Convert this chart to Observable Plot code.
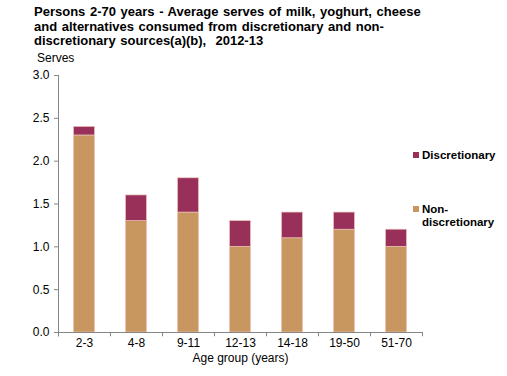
<!DOCTYPE html>
<html><head><meta charset="utf-8">
<script src="https://cdn.jsdelivr.net/npm/d3@7"></script>
<script src="https://cdn.jsdelivr.net/npm/@observablehq/plot@0.6"></script>
<style>
body{margin:0;background:#fff;font-family:"Liberation Sans",Arial,sans-serif;}
#wrap{position:relative;width:507px;height:376px;overflow:hidden;background:#fff}
#title{position:absolute;left:34px;top:5px;font-weight:bold;font-size:13px;line-height:14.5px;word-spacing:1px;color:#000;white-space:nowrap}
#unit{position:absolute;left:37px;top:51px;font-size:12px;color:#000}
#chart{position:absolute;left:0;top:0}
.leg{position:absolute;font-size:11.5px;font-weight:bold;line-height:13.5px;color:#000;white-space:nowrap}
.sw{position:absolute;width:6px;height:6px}
</style></head>
<body>
<div id="wrap">
<div id="chart"></div>
<div id="title"></div>
<div id="unit">Serves</div>
<div id="legend"></div>
</div>
<script>
const ageGroups = ["2-3","4-8","9-11","12-13","14-18","19-50","51-70"];
const nonDiscretionary = [2.3,1.3,1.4,1.0,1.1,1.2,1.0];
const discretionary = [0.1,0.3,0.4,0.3,0.3,0.2,0.2];
const seriesNames = ["Non-discretionary","Discretionary"];
const seriesColors = ["#C8965F","#98305A"];
const yTicks = [0,0.5,1,1.5,2,2.5,3];
const titleLines = ["Persons 2-70 years - Average serves of milk, yoghurt, cheese","and alternatives consumed from discretionary and non-","discretionary sources(a)(b),  2012-13"];
const xLabel = "Age group (years)";

document.getElementById("title").innerHTML = titleLines.map(s=>s.replace(/  /g," &nbsp;")).join("<br>");

const rows = [];
ageGroups.forEach((a,i)=>{
  rows.push({age:a, series:seriesNames[0], value:nonDiscretionary[i]});
  rows.push({age:a, series:seriesNames[1], value:discretionary[i]});
});

const W=507,H=376,ml=58,mr=85,mt=75,mb=44;
const bw=(W-ml-mr)/ageGroups.length;
const tickLen=0.05;

const chart = Plot.plot({
  width:W,height:H,marginLeft:ml,marginRight:mr,marginTop:mt,marginBottom:mb,
  style:{fontFamily:'"Liberation Sans",Arial,sans-serif',fontSize:"12px",color:"#000",background:"transparent"},
  x:{domain:ageGroups,padding:0,label:null},
  y:{domain:[0,3],label:null},
  color:{domain:seriesNames,range:seriesColors},
  marks:[
    Plot.barY(rows,{x:"age",y:"value",fill:"series",order:seriesNames,insetLeft:15.5,insetRight:15.5,stroke:"#EBC3B9",strokeWidth:0.7}),
    Plot.ruleY([0],{stroke:"#868686"}),
    Plot.ruleX([ageGroups[0]],{dx:-bw/2,y1:-tickLen,y2:3,stroke:"#868686"}),
    Plot.ruleX(ageGroups,{dx:-bw/2,y1:-tickLen,y2:0,stroke:"#868686"}),
    Plot.ruleX([ageGroups[ageGroups.length-1]],{dx:bw/2,y1:-tickLen,y2:0,stroke:"#868686"}),
    Plot.axisY({ticks:yTicks,tickFormat:d3.format(".1f"),tickSize:4,tickPadding:5,stroke:"#868686",fill:"#000",fontSize:12,label:null}),
    Plot.axisX({tickSize:0,tickPadding:6,fill:"#000",fontSize:12,label:null}),
    Plot.text([xLabel],{frameAnchor:"bottom",dy:29,fontSize:12,fill:"#000"})
  ]
});
document.getElementById("chart").appendChild(chart);

// legend
const leg = document.getElementById("legend");
const legItems = [
  {name:"Discretionary", color:seriesColors[1], lines:["Discretionary"], top:148.5},
  {name:"Non-discretionary", color:seriesColors[0], lines:["Non-","discretionary"], top:202.5}
];
legItems.forEach(it=>{
  const s=document.createElement("div");s.className="sw";s.style.left="413px";s.style.top=(it.top+3.5)+"px";s.style.background=it.color;leg.appendChild(s);
  const t=document.createElement("div");t.className="leg";t.style.left="422px";t.style.top=it.top+"px";t.innerHTML=it.lines.join("<br>");leg.appendChild(t);
});
</script>
</body></html>
